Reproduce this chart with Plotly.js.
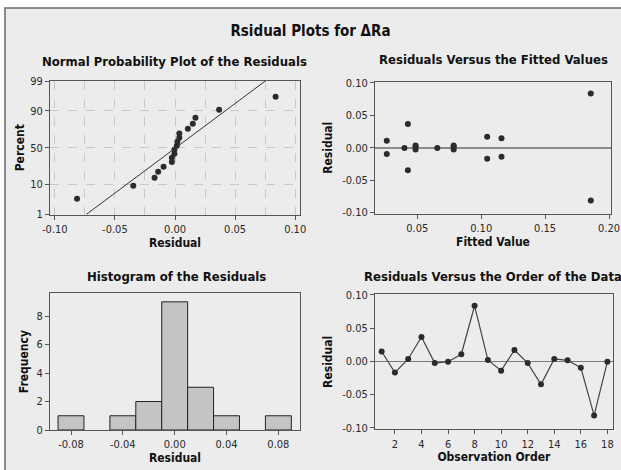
<!DOCTYPE html>
<html>
<head>
<meta charset="utf-8">
<script src="https://cdn.plot.ly/plotly-3.0.1.min.js"></script>
<style>
  html, body { margin: 0; padding: 0; background: #ffffff; }
  #chart { width: 621px; height: 470px; }
</style>
</head>
<body>
<div id="chart"></div>
<script>
// ---- Data ----
const obsOrder = [1, 2, 3, 4, 5, 6, 7, 8, 9, 10, 11, 12, 13, 14, 15, 16, 17, 18];
const residuals = [0.0148, -0.0170, 0.0036, 0.0367, -0.0026, -0.0005, 0.0107, 0.0837, 0.0020,
                   -0.0140, 0.0170, -0.0026, -0.0347, 0.0036, 0.0015, -0.0095, -0.0815, -0.0005];
const fittedValues = [0.1159, 0.1047, 0.0487, 0.0427, 0.0487, 0.0400, 0.0262, 0.1857, 0.0785,
                      0.1159, 0.1047, 0.0785, 0.0427, 0.0785, 0.0487, 0.0262, 0.1857, 0.0657];
// plotting-position percents of the sorted residuals on the normal probability plot
const npPercent = [3.8, 9.2, 14.7, 20.1, 25.5, 31.0, 36.4, 41.8, 47.3, 52.7, 58.2, 63.6, 69.0,
                   74.5, 79.9, 85.3, 90.8, 96.2];
const npLinePercent = [1, 99];
const npTickPercent = [1, 10, 50, 90, 99];
const npTickText = ['1', '10', '50', '90', '99'];
const resTickVals = [-0.10, -0.05, 0.00, 0.05, 0.10];
const resTickText = ['-0.10', '-0.05', '0.00', '0.05', '0.10'];
const fitTickVals = [0.05, 0.10, 0.15, 0.20];
const fitTickText = ['0.05', '0.10', '0.15', '0.20'];
const histTickVals = [-0.08, -0.04, 0.00, 0.04, 0.08];
const histTickText = ['-0.08', '-0.04', '0.00', '0.04', '0.08'];
const freqTickVals = [0, 2, 4, 6, 8];
const orderTickVals = [2, 4, 6, 8, 10, 12, 14, 16, 18];

// ---- normal-probability scale transform ----
function probit(p) {
  const a = [-3.969683028665376e+01, 2.209460984245205e+02, -2.759285104469687e+02,
             1.383577518672690e+02, -3.066479806614716e+01, 2.506628277459239e+00];
  const b = [-5.447609879822406e+01, 1.615858368580409e+02, -1.556989798598866e+02,
             6.680131188771972e+01, -1.328068155288572e+01];
  const c = [-7.784894002430293e-03, -3.223964580411365e-01, -2.400758277161838e+00,
             -2.549732539343734e+00, 4.374664141464968e+00, 2.938163982698783e+00];
  const d = [7.784695709041462e-03, 3.224671290700398e-01, 2.445134137142996e+00,
             3.754408661907416e+00];
  const pl = 0.02425;
  let q, r;
  if (p < pl) {
    q = Math.sqrt(-2 * Math.log(p));
    return (((((c[0]*q+c[1])*q+c[2])*q+c[3])*q+c[4])*q+c[5]) / ((((d[0]*q+d[1])*q+d[2])*q+d[3])*q+1);
  }
  if (p <= 1 - pl) {
    q = p - 0.5; r = q * q;
    return (((((a[0]*r+a[1])*r+a[2])*r+a[3])*r+a[4])*r+a[5])*q / (((((b[0]*r+b[1])*r+b[2])*r+b[3])*r+b[4])*r+1);
  }
  q = Math.sqrt(-2 * Math.log(1 - p));
  return -(((((c[0]*q+c[1])*q+c[2])*q+c[3])*q+c[4])*q+c[5]) / ((((d[0]*q+d[1])*q+d[2])*q+d[3])*q+1);
}
const z = pct => probit(pct / 100);

const sortedRes = residuals.slice().sort((u, v) => u - v);
const n = residuals.length;
const mean = residuals.reduce((s, v) => s + v, 0) / n;
const sd = Math.sqrt(residuals.reduce((s, v) => s + (v - mean) * (v - mean), 0) / (n - 1));
const lineZ = npLinePercent.map(z);
const lineX = lineZ.map(zz => mean + zz * sd);

// ---- style ----
const FONT = '"DejaVu Sans Condensed", "Liberation Sans Narrow", "Arial Narrow", sans-serif';
const tickFont = { family: FONT, size: 11, color: '#2a2a2a' };
const axTitleFont = { family: FONT, size: 12, color: '#111', weight: 'bold' };
const subTitleFont = { family: FONT, size: 13, color: '#111', weight: 'bold' };
const W = 621, H = 470;
const px = v => v / W;
const py = v => 1 - v / H;
const markerStyle = { symbol: 'circle', size: 6, color: '#2b2b2b' };

const baseAxis = {
  showline: true, mirror: true, linecolor: '#555', linewidth: 1,
  ticks: 'outside', ticklen: 4, tickcolor: '#555', tickwidth: 1,
  tickfont: tickFont, zeroline: false, showgrid: false, fixedrange: true,
  tickmode: 'array'
};

const traces = [
  { type: 'scatter', mode: 'markers', x: sortedRes, y: npPercent.map(z),
    xaxis: 'x', yaxis: 'y', marker: markerStyle, hoverinfo: 'skip' },
  { type: 'scatter', mode: 'lines', x: lineX, y: lineZ,
    xaxis: 'x', yaxis: 'y', line: { color: '#333', width: 1 }, hoverinfo: 'skip' },
  { type: 'scatter', mode: 'markers', x: fittedValues, y: residuals,
    xaxis: 'x2', yaxis: 'y2', marker: markerStyle, hoverinfo: 'skip' },
  { type: 'histogram', x: residuals, xaxis: 'x3', yaxis: 'y3',
    xbins: { start: -0.09, end: 0.09, size: 0.02 },
    marker: { color: '#c4c4c4', line: { color: '#222', width: 1 } }, hoverinfo: 'skip' },
  { type: 'scatter', mode: 'lines+markers', x: obsOrder, y: residuals,
    xaxis: 'x4', yaxis: 'y4', marker: markerStyle,
    line: { color: '#444', width: 1.2 }, hoverinfo: 'skip' }
];

const layout = {
  width: W, height: H,
  margin: { l: 0, r: 0, t: 0, b: 0 },
  paper_bgcolor: '#ffffff', plot_bgcolor: '#ffffff',
  showlegend: false, bargap: 0,
  title: { text: 'Rsidual Plots for ΔRa', x: 0.5, xanchor: 'center', y: py(31), yanchor: 'middle',
           font: { family: FONT, size: 15, color: '#111', weight: 'bold' } },
  xaxis: Object.assign({}, baseAxis, {
    domain: [px(50), px(300)], anchor: 'y', range: [-0.104, 0.104],
    tickvals: resTickVals, ticktext: resTickText,
    showgrid: true, gridcolor: '#c8c8c8', griddash: 'dash', gridwidth: 1,
    minor: { tickmode: 'linear', tick0: 0, dtick: 0.025, showgrid: true, gridcolor: '#c8c8c8',
             griddash: 'dash', gridwidth: 1, ticks: '' },
    title: { text: 'Residual', font: axTitleFont, standoff: 2 }
  }),
  yaxis: Object.assign({}, baseAxis, {
    domain: [py(214.5), py(81)], anchor: 'x', range: [z(1), z(99)],
    tickvals: npTickPercent.map(z), ticktext: npTickText,
    showgrid: true, gridcolor: '#c8c8c8', griddash: 'dash', gridwidth: 1,
    title: { text: 'Percent', font: axTitleFont, standoff: 3 }
  }),
  xaxis2: Object.assign({}, baseAxis, {
    domain: [px(375), px(611)], anchor: 'y2', range: [0.017, 0.2015],
    tickvals: fitTickVals, ticktext: fitTickText,
    title: { text: 'Fitted Value', font: axTitleFont, standoff: 2 }
  }),
  yaxis2: Object.assign({}, baseAxis, {
    domain: [py(213.5), py(82)], anchor: 'x2', range: [-0.1015, 0.1015],
    tickvals: resTickVals, ticktext: resTickText,
    zeroline: true, zerolinecolor: '#8a8a8a', zerolinewidth: 2,
    title: { text: 'Residual', font: axTitleFont, standoff: 6 }
  }),
  xaxis3: Object.assign({}, baseAxis, {
    domain: [px(50), px(300)], anchor: 'y3', range: [-0.0962, 0.0967],
    tickvals: histTickVals, ticktext: histTickText,
    title: { text: 'Residual', font: axTitleFont, standoff: 2 }
  }),
  yaxis3: Object.assign({}, baseAxis, {
    domain: [py(430), py(293.3)], anchor: 'x3', range: [0, 9.6],
    tickvals: freqTickVals,
    title: { text: 'Frequency', font: axTitleFont, standoff: 5 }
  }),
  xaxis4: Object.assign({}, baseAxis, {
    domain: [px(375), px(612.7)], anchor: 'y4', range: [0.5, 18.4],
    tickvals: orderTickVals,
    title: { text: 'Observation Order', font: axTitleFont, standoff: 2 }
  }),
  yaxis4: Object.assign({}, baseAxis, {
    domain: [py(429.3), py(294.3)], anchor: 'x4', range: [-0.1024, 0.101],
    tickvals: resTickVals, ticktext: resTickText,
    zeroline: true, zerolinecolor: '#7a7a7a', zerolinewidth: 1.3,
    title: { text: 'Residual', font: axTitleFont, standoff: 6 }
  }),
  shapes: [
    { type: 'rect', xref: 'paper', yref: 'paper', layer: 'below',
      x0: px(5), x1: 1.02, y0: -0.02, y1: py(8),
      fillcolor: '#ececec', line: { color: '#6a6a6a', width: 1.5 } }
  ],
  annotations: [
    { text: 'Normal Probability Plot of the Residuals', xref: 'paper', yref: 'paper',
      x: px(175), y: py(61), xanchor: 'center', yanchor: 'middle', showarrow: false,
      font: subTitleFont },
    { text: 'Residuals Versus the Fitted Values', xref: 'paper', yref: 'paper',
      x: px(493), y: py(60), xanchor: 'center', yanchor: 'middle', showarrow: false,
      font: subTitleFont },
    { text: 'Histogram of the Residuals', xref: 'paper', yref: 'paper',
      x: px(176), y: py(276), xanchor: 'center', yanchor: 'middle', showarrow: false,
      font: subTitleFont },
    { text: 'Residuals Versus the Order of the Data', xref: 'paper', yref: 'paper',
      x: px(493), y: py(276), xanchor: 'center', yanchor: 'middle', showarrow: false,
      font: subTitleFont }
  ]
};

Plotly.newPlot('chart', traces, layout, { displayModeBar: false, staticPlot: true });
</script>
</body>
</html>
